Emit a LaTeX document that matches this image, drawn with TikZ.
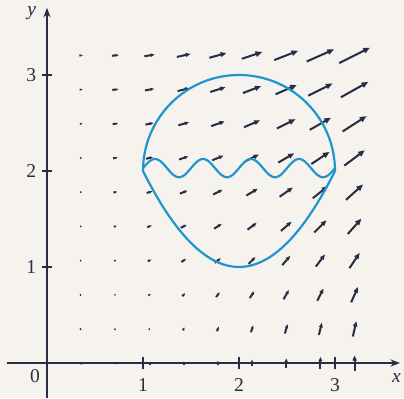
\documentclass[tikz,border=0pt]{standalone}
\usepackage{fontspec}
\setmainfont{Liberation Serif}
\usetikzlibrary{arrows.meta}
\definecolor{paper}{RGB}{246,242,237}
\definecolor{curveblue}{RGB}{30,150,205}
\definecolor{ink}{RGB}{40,45,70}
\begin{document}
\begin{tikzpicture}[x=1cm,y=1cm,
  axisline/.style={draw=ink,line width=0.45pt},
  tickmark/.style={draw=ink,line width=0.4pt},
  lbl/.style={font=\fontsize{5.8}{7}\selectfont,text=ink,inner sep=0pt},
  fieldarrow/.style={draw=ink,line width=0.6pt},
  bluecurve/.style={draw=curveblue,line width=0.65pt}]
\useasboundingbox[fill=paper] (-0.4896,-0.3646) rectangle (3.7188,3.78125);
% axes
\coordinate (xs) at (-0.417,0);
\coordinate (xe) at (3.677,0);
\coordinate (ys) at (0,-0.3646);
\coordinate (ye) at (0,3.70);
\draw[axisline,-{Stealth[length=0.1cm,width=0.075cm]}] (xs) -- (xe);
\draw[axisline,-{Stealth[length=0.1cm,width=0.075cm]}] (ys) -- (ye);
\foreach \k in {1,2,3}{
  \draw[tickmark] (\k,-0.06) -- (\k,0.06);
  \draw[tickmark] (-0.05,\k) -- (0.05,\k);
  \node[lbl] (xl\k) at (\k,-0.23) {\k};
  \node[lbl] (yl\k) at (-0.165,\k) {\k};
}
\node[lbl] (origin) at (-0.125,-0.135) {0};
\node[lbl] (xlab) at (3.64,-0.16) {\textit{x}};
\node[lbl] (ylab) at (-0.16,3.645) {\textit{y}};
% vector field F = (xy, x^2/2)
\foreach \i in {1,...,9}{
  \foreach \j in {0,...,9}{
    \pgfmathsetmacro\px{0.356*\i}
    \pgfmathsetmacro\py{0.356*\j}
    \pgfmathsetmacro\vx{0.03125*\px*\py}
    \pgfmathsetmacro\vy{0.03125*\px*\px/2}
    \pgfmathsetmacro\L{sqrt(\vx*\vx+\vy*\vy)}
    \pgfmathsetmacro\hl{min(0.07,max(0.016,0.25*\L+0.015))}
    \pgfmathsetmacro\hw{0.8*\hl}
    \draw[fieldarrow,-{Triangle[length=\hl cm,width=\hw cm]}]
      (\px-\vx/2,\py-\vy/2) -- (\px+\vx/2,\py+\vy/2);
  }
}
% closed curve
\coordinate (cl) at (1,2);
\coordinate (cr) at (3,2);
\draw[bluecurve] (cr) arc[start angle=0,end angle=180,radius=1]
  .. controls (1.667,0.667) and (2.333,0.667) .. (cr);
% wavy curve
\draw[bluecurve] plot[domain=1:3,samples=160,smooth] (\x,{2.03+0.095*sin(720*(\x-1))});
\end{tikzpicture}
\end{document}
